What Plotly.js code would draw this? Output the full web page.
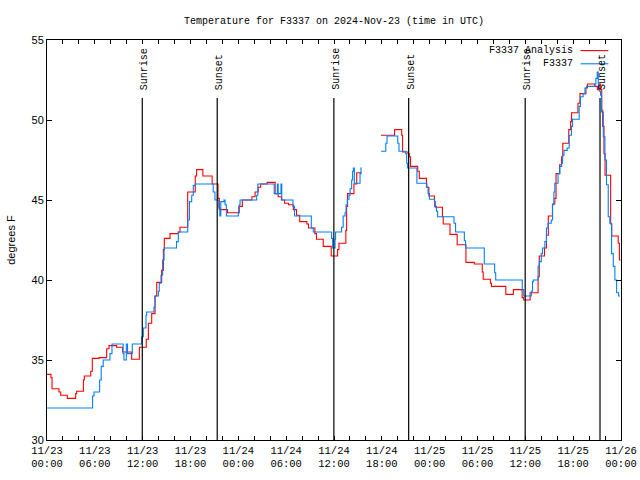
<!DOCTYPE html>
<html>
<head>
<meta charset="utf-8">
<script src="https://cdn.plot.ly/plotly-3.0.1.min.js"></script>
<style>html,body{margin:0;padding:0;background:#fff;}#chart{width:640px;height:480px;}</style>
</head>
<body>
<div id="chart"></div>
<script>
// ---- Data ----
var analysisTimes = [
 '2024-11-23 00:00','2024-11-23 00:30','2024-11-23 00:38','2024-11-23 01:30','2024-11-23 01:43','2024-11-23 02:33',
 '2024-11-23 03:36','2024-11-23 03:43','2024-11-23 04:34','2024-11-23 04:41','2024-11-23 05:29','2024-11-23 05:41',
 '2024-11-23 06:31','2024-11-23 07:29','2024-11-23 07:47','2024-11-23 08:44','2024-11-23 09:29','2024-11-23 10:37',
 '2024-11-23 11:35','2024-11-23 12:27','2024-11-23 12:43','2024-11-23 13:08','2024-11-23 13:33','2024-11-23 13:46',
 '2024-11-23 14:23','2024-11-23 14:36','2024-11-23 14:43','2024-11-23 15:26','2024-11-23 16:28','2024-11-23 16:41',
 '2024-11-23 17:39','2024-11-23 18:36','2024-11-23 18:46','2024-11-23 19:33','2024-11-23 20:43','2024-11-23 21:27',
 '2024-11-23 21:37','2024-11-23 22:39','2024-11-24 00:03','2024-11-24 00:30','2024-11-24 01:42','2024-11-24 02:06',
 '2024-11-24 02:30','2024-11-24 02:48','2024-11-24 03:37','2024-11-24 04:37','2024-11-24 05:00','2024-11-24 05:24',
 '2024-11-24 05:48','2024-11-24 06:18','2024-11-24 06:54','2024-11-24 07:18','2024-11-24 07:42','2024-11-24 08:36',
 '2024-11-24 08:48','2024-11-24 09:36','2024-11-24 09:48','2024-11-24 10:39','2024-11-24 11:39','2024-11-24 12:27',
 '2024-11-24 12:37','2024-11-24 13:29','2024-11-24 13:35','2024-11-24 13:42','2024-11-24 14:30','2024-11-24 14:51',
 '2024-11-24 15:28','2024-11-24 16:30',
 '2024-11-24 17:54','2024-11-24 19:36','2024-11-24 20:30','2024-11-24 20:36','2024-11-24 21:18','2024-11-24 21:27',
 '2024-11-24 21:36','2024-11-24 22:30','2024-11-24 22:42','2024-11-24 23:36','2024-11-24 23:54','2024-11-25 00:36',
 '2024-11-25 00:42','2024-11-25 01:36','2024-11-25 01:42','2024-11-25 02:33','2024-11-25 03:27','2024-11-25 04:33',
 '2024-11-25 05:36','2024-11-25 06:36','2024-11-25 06:43','2024-11-25 07:37','2024-11-25 07:45','2024-11-25 09:33',
 '2024-11-25 10:30','2024-11-25 11:36','2024-11-25 11:48','2024-11-25 12:36','2024-11-25 13:36','2024-11-25 13:45',
 '2024-11-25 14:24','2024-11-25 14:39','2024-11-25 14:53','2024-11-25 15:24','2024-11-25 15:42','2024-11-25 15:51',
 '2024-11-25 16:18','2024-11-25 16:33','2024-11-25 16:42','2024-11-25 17:27','2024-11-25 17:41','2024-11-25 17:48',
 '2024-11-25 18:36','2024-11-25 18:51','2024-11-25 19:36','2024-11-25 19:47','2024-11-25 20:42','2024-11-25 21:02',
 '2024-11-25 21:12','2024-11-25 21:27','2024-11-25 21:35','2024-11-25 21:42','2024-11-25 21:52','2024-11-25 22:00',
 '2024-11-25 22:42','2024-11-25 22:50','2024-11-25 23:39','2024-11-25 23:48','2024-11-25 23:56'
];
var analysisTemps = [
 34.1,33.9,33.2,33.0,32.8,32.6,
 32.9,33.05,33.75,34.0,34.3,35.1,
 35.15,35.7,35.9,35.8,35.5,35.05,
 35.8,36.3,37.3,37.9,39.0,39.85,
 40.6,41.9,42.6,42.9,43.0,43.3,
 45.5,46.5,46.9,46.5,46.0,45.1,
 44.4,44.2,44.6,45.0,45.2,45.5,
 45.8,46.0,46.1,45.4,45.2,45.0,
 44.8,44.7,44.4,44.05,43.65,43.5,
 43.25,42.9,42.55,42.1,41.5,41.9,
 42.3,43.1,44.6,45.4,46.0,46.7,
 46.7,null,
 49.05,49.4,49.05,48.0,47.9,47.7,
 47.1,46.8,46.35,45.8,45.25,44.9,
 44.55,43.95,43.5,42.85,42.2,41.1,
 41.0,40.5,40.05,39.8,39.6,39.1,
 39.4,38.9,38.75,39.2,40.2,41.5,
 42.0,42.8,44.0,44.75,45.1,46.65,
 47.2,47.7,48.55,49.4,49.9,50.45,
 51.05,51.65,52.0,52.25,52.1,51.9,
 52.25,51.9,50.6,49.6,47.9,46.55,
 43.5,42.75,42.3,41.25,41.25
];

var obsTimes = [
 '2024-11-23 00:00','2024-11-23 05:43','2024-11-23 05:54','2024-11-23 06:36','2024-11-23 06:48','2024-11-23 07:03',
 '2024-11-23 07:54','2024-11-23 08:09','2024-11-23 09:33','2024-11-23 09:39','2024-11-23 09:57','2024-11-23 10:06',
 '2024-11-23 10:42','2024-11-23 11:52','2024-11-23 12:05','2024-11-23 12:25','2024-11-23 12:30','2024-11-23 13:25',
 '2024-11-23 13:33','2024-11-23 13:58','2024-11-23 14:05','2024-11-23 14:18','2024-11-23 14:30','2024-11-23 14:41',
 '2024-11-23 16:15','2024-11-23 16:28','2024-11-23 17:39','2024-11-23 17:52','2024-11-23 18:09','2024-11-23 18:21',
 '2024-11-23 18:34','2024-11-23 20:51','2024-11-23 21:04','2024-11-23 21:33','2024-11-23 21:41','2024-11-23 21:48',
 '2024-11-23 22:12','2024-11-23 22:20','2024-11-23 22:30','2024-11-24 00:00','2024-11-24 00:08','2024-11-24 00:13',
 '2024-11-24 02:18','2024-11-24 02:27','2024-11-24 04:30','2024-11-24 04:54','2024-11-24 05:00','2024-11-24 05:21',
 '2024-11-24 05:27','2024-11-24 06:51','2024-11-24 07:03','2024-11-24 09:09','2024-11-24 09:24','2024-11-24 11:42',
 '2024-11-24 11:50','2024-11-24 12:08','2024-11-24 12:12','2024-11-24 12:57','2024-11-24 13:09','2024-11-24 13:23',
 '2024-11-24 13:31','2024-11-24 13:40','2024-11-24 13:53','2024-11-24 14:01','2024-11-24 14:13','2024-11-24 14:20',
 '2024-11-24 14:26','2024-11-24 14:33','2024-11-24 15:16','2024-11-24 15:23','2024-11-24 15:30','2024-11-24 16:30',
 '2024-11-24 17:54','2024-11-24 18:30','2024-11-24 18:39','2024-11-24 20:00','2024-11-24 20:09','2024-11-24 21:00',
 '2024-11-24 21:07','2024-11-24 21:14','2024-11-24 22:24','2024-11-24 23:39','2024-11-24 23:48','2024-11-24 23:58',
 '2024-11-25 00:37','2024-11-25 00:51','2024-11-25 01:00','2024-11-25 03:03','2024-11-25 03:15','2024-11-25 04:21',
 '2024-11-25 04:30','2024-11-25 06:51','2024-11-25 08:09','2024-11-25 08:17','2024-11-25 11:37','2024-11-25 11:48',
 '2024-11-25 12:45','2024-11-25 12:54','2024-11-25 13:00','2024-11-25 13:36','2024-11-25 13:45','2024-11-25 14:00',
 '2024-11-25 14:09','2024-11-25 14:27','2024-11-25 14:39','2024-11-25 14:51','2024-11-25 15:15','2024-11-25 15:25',
 '2024-11-25 15:35','2024-11-25 15:42','2024-11-25 16:06','2024-11-25 16:20','2024-11-25 16:33','2024-11-25 16:40',
 '2024-11-25 16:51','2024-11-25 17:15','2024-11-25 17:30','2024-11-25 17:47','2024-11-25 17:55','2024-11-25 18:45',
 '2024-11-25 18:55','2024-11-25 19:15','2024-11-25 19:29','2024-11-25 19:41','2024-11-25 20:43','2024-11-25 20:51',
 '2024-11-25 21:01','2024-11-25 21:09','2024-11-25 21:17','2024-11-25 21:26','2024-11-25 21:34','2024-11-25 21:47',
 '2024-11-25 21:59','2024-11-25 22:11','2024-11-25 22:24','2024-11-25 22:36','2024-11-25 22:49','2024-11-25 23:02',
 '2024-11-25 23:14','2024-11-25 23:27','2024-11-25 23:42','2024-11-25 23:51'
];
var obsTemps = [
 32.0,32.75,33.0,33.75,34.6,35.0,
 35.4,36.0,35.4,35.0,36.0,35.4,
 36.0,36.45,37.0,37.8,38.0,38.3,
 39.0,39.3,39.8,40.3,41.25,42.0,
 42.4,43.0,43.75,44.9,45.3,45.9,
 46.0,45.5,45.0,44.5,44.0,44.9,
 45.0,44.7,44.0,44.2,44.7,45.0,
 45.3,46.0,45.4,46.0,45.4,46.0,
 45.0,44.6,44.0,43.25,43.0,42.6,
 42.0,42.55,43.0,43.3,44.0,44.2,
 44.7,45.05,45.3,45.7,46.25,46.8,
 47.0,46.05,46.65,47.0,47.0,null,
 48.05,48.55,49.0,48.55,48.05,47.9,
 47.3,47.0,46.05,45.8,45.4,45.05,
 44.6,44.3,43.95,43.55,43.0,42.45,
 42.0,41.0,40.45,40.0,39.4,39.0,
 39.3,39.9,40.0,40.85,41.15,41.65,
 42.0,42.4,43.25,43.55,43.75,44.7,
 45.5,46.05,46.65,47.1,47.3,47.8,
 48.1,48.25,49.05,49.6,50.05,50.85,
 51.45,51.65,52.0,52.1,52.25,52.6,
 53.0,52.25,51.8,51.55,50.5,48.95,
 47.5,45.95,43.95,43.55,41.65,40.85,
 40.0,39.2,39.0,39.0
];

var eventTimes = ['2024-11-23 11:57','2024-11-23 21:21','2024-11-24 11:59','2024-11-24 21:22','2024-11-25 11:59','2024-11-25 21:22'];
var eventLabels = ['Sunrise','Sunset','Sunrise','Sunset','Sunrise','Sunset'];

var seriesNames = ['F3337 Analysis','F3337'];
var seriesColors = ['#ff0000','#0080ff'];

var xRange = ['2024-11-23 00:00','2024-11-26 00:00'];
var yRange = [30, 55];

// ---- Build figure ----
var mono = 'Liberation Mono, DejaVu Sans Mono, monospace';
var sans = 'Liberation Sans, Arial, sans-serif';

var traces = [
  {x: analysisTimes, y: analysisTemps, name: seriesNames[0], type: 'scatter', mode: 'lines',
   line: {shape: 'hv', color: seriesColors[0], width: 1.1}, connectgaps: false, showlegend: false},
  {x: obsTimes, y: obsTemps, name: seriesNames[1], type: 'scatter', mode: 'lines',
   line: {shape: 'hv', color: seriesColors[1], width: 1.1}, connectgaps: false, showlegend: false}
];

var shapes = [];
var annotations = [];
eventTimes.forEach(function(t, i){
  shapes.push({type: 'line', xref: 'x', yref: 'paper', x0: t, x1: t, y0: 0, y1: 0.855,
               line: {color: '#000', width: 1.2}});
  annotations.push({xref: 'x', yref: 'paper', x: t, y: 0.87, text: eventLabels[i], textangle: -90,
                    showarrow: false, xanchor: 'center', yanchor: 'bottom', xshift: 2,
                    font: {family: mono, size: 10, color: '#000'}});
});
// legend drawn as in the reference: text, then line sample
var legendY = [0.9735, 0.9405];
seriesNames.forEach(function(n, i){
  annotations.push({xref: 'paper', yref: 'paper', x: 0.92, y: legendY[i], text: n, showarrow: false,
                    xanchor: 'right', yanchor: 'middle', font: {family: mono, size: 10, color: '#000'}});
  shapes.push({type: 'line', xref: 'paper', yref: 'paper', x0: 0.9295, x1: 0.978, y0: legendY[i], y1: legendY[i],
               line: {color: seriesColors[i], width: 1.1}});
});

var layout = {
  width: 640, height: 480,
  margin: {l: 47, r: 19, t: 40, b: 40, pad: 0},
  paper_bgcolor: '#fff', plot_bgcolor: '#fff',
  showlegend: false,
  title: {text: 'Temperature for F3337 on 2024-Nov-23 (time in UTC)', x: 0.5, xref: 'paper',
          y: 0.958, yref: 'container', yanchor: 'middle', font: {family: mono, size: 10, color: '#000'}},
  xaxis: {type: 'date', range: xRange, showgrid: false, zeroline: false,
          showline: true, linecolor: '#000', linewidth: 1, mirror: 'ticks',
          ticks: 'inside', ticklen: 4, tickcolor: '#000',
          tick0: '2024-11-23 00:00', dtick: 6 * 3600000, tickformat: '%m/%d<br>%H:%M',
          minor: {dtick: 2 * 3600000, ticks: 'inside', ticklen: 4, tickcolor: '#000', showgrid: false},
          tickfont: {family: mono, size: 10.5, color: '#000'}},
  yaxis: {range: yRange, showgrid: false, zeroline: false,
          showline: true, linecolor: '#000', linewidth: 1, mirror: 'ticks',
          ticks: 'inside', ticklen: 5, tickcolor: '#000', dtick: 5,
          tickfont: {family: sans, size: 11, color: '#000'},
          title: {text: 'degrees F', font: {family: sans, size: 11, color: '#000'}, standoff: 13}},
  shapes: shapes,
  annotations: annotations
};

Plotly.newPlot('chart', traces, layout, {staticPlot: true, displayModeBar: false});
</script>
</body>
</html>
